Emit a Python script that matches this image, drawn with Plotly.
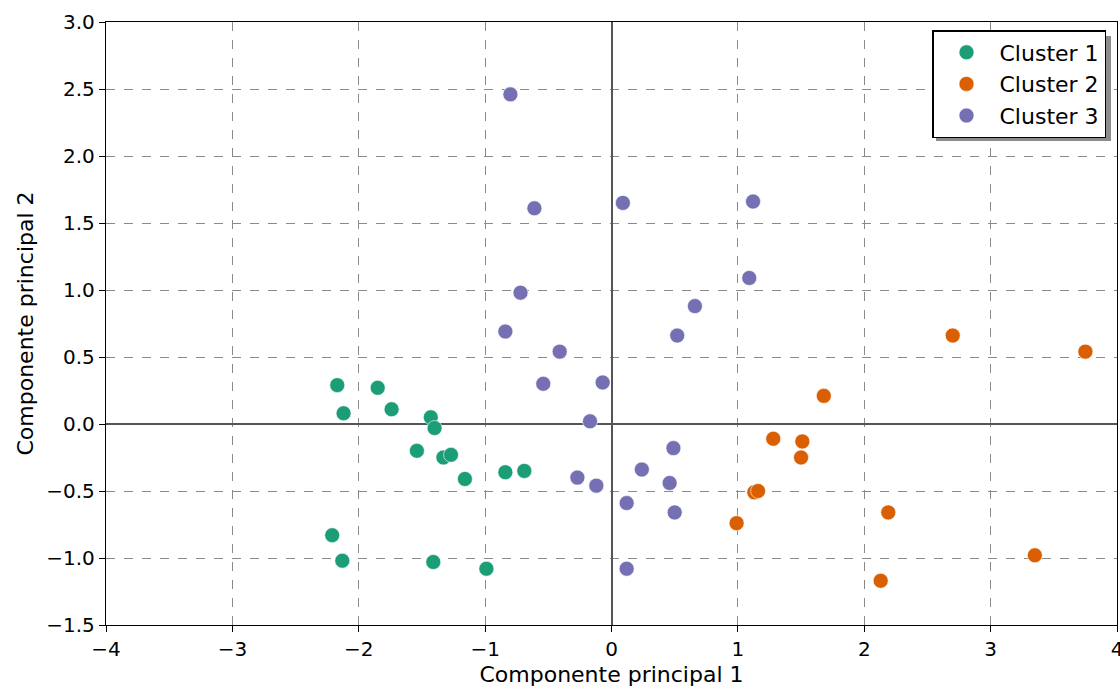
import plotly.graph_objects as go

# ---- data ----
cluster_names = ["Cluster 1", "Cluster 2", "Cluster 3"]
cluster_colors = ["#1b9e77", "#d95f02", "#7570b3"]

c1_x = [-2.17, -2.12, -1.85, -1.74, -1.43, -1.40, -1.54, -1.33, -1.27, -1.16, -0.84, -0.69, -2.21, -2.13, -1.41, -0.99]
c1_y = [0.29, 0.08, 0.27, 0.11, 0.05, -0.03, -0.20, -0.25, -0.23, -0.41, -0.36, -0.35, -0.83, -1.02, -1.03, -1.08]

c2_x = [2.70, 3.75, 1.68, 1.28, 1.51, 1.50, 1.13, 1.16, 0.99, 2.19, 2.13, 3.35]
c2_y = [0.66, 0.54, 0.21, -0.11, -0.13, -0.25, -0.51, -0.50, -0.74, -0.66, -1.17, -0.98]

c3_x = [-0.80, -0.61, 0.09, 1.12, 1.09, 0.66, 0.52, -0.72, -0.84, -0.41, -0.54, -0.07, -0.17, 0.49, 0.24, -0.27, -0.12, 0.46, 0.12, 0.50, 0.12]
c3_y = [2.46, 1.61, 1.65, 1.66, 1.09, 0.88, 0.66, 0.98, 0.69, 0.54, 0.30, 0.31, 0.02, -0.18, -0.34, -0.40, -0.46, -0.44, -0.59, -0.66, -1.08]

x_ticks = [-4, -3, -2, -1, 0, 1, 2, 3, 4]
x_tick_labels = ["\u22124", "\u22123", "\u22122", "\u22121", "0", "1", "2", "3", "4"]
y_ticks = [3.0, 2.5, 2.0, 1.5, 1.0, 0.5, 0.0, -0.5, -1.0, -1.5]
y_tick_labels = ["3.0", "2.5", "2.0", "1.5", "1.0", "0.5", "0.0", "\u22120.5", "\u22121.0", "\u22121.5"]

x_title = "Componente principal 1"
y_title = "Componente principal 2"

FONT = "DejaVu Sans, sans-serif"

fig = go.Figure()
for name, col, xs, ys in zip(cluster_names, cluster_colors,
                             [c1_x, c2_x, c3_x], [c1_y, c2_y, c3_y]):
    fig.add_trace(go.Scatter(
        x=xs, y=ys, mode="markers", name=name, legendgroup=name,
        marker=dict(color=col, size=15, line=dict(width=0.6, color="white")),
    ))

axis_common = dict(
    showline=True, linecolor="black", linewidth=1.3, mirror=True,
    ticks="outside", ticklen=6, tickwidth=1.3, tickcolor="black",
    showgrid=True, gridcolor="#8a8a8a", gridwidth=1, griddash="dash",
    zeroline=True, zerolinecolor="#555555", zerolinewidth=1.5,
    tickfont=dict(family=FONT, size=20, color="black"),
    title_font=dict(family=FONT, size=22, color="black"),
    ticklabeloverflow="allow",
)

fig.update_xaxes(range=[-4, 4], tickvals=x_ticks, ticktext=x_tick_labels,
                 title_text=x_title, title_standoff=6, **axis_common)
fig.update_yaxes(range=[-1.5, 3.0], tickvals=y_ticks, ticktext=y_tick_labels,
                 title_text=y_title, title_standoff=6, **axis_common)

# legend shadow (pixel box converted to paper coords)
L, R, T, B = 106, 1117, 22, 625
def px(x):
    return (x - L) / (R - L)
def py(y):
    return (B - y) / (B - T)
fig.add_shape(type="rect", xref="paper", yref="paper",
              x0=px(936), x1=px(1111), y0=py(141), y1=py(36),
              fillcolor="#8c8c8c", line=dict(width=0), layer="above")

fig.update_layout(
    width=1120, height=688,
    margin=dict(l=L, r=1120 - R, t=T, b=688 - B, autoexpand=False),
    paper_bgcolor="white", plot_bgcolor="white",
    font=dict(family=FONT, size=20, color="black"),
    legend=dict(
        x=px(1106), y=py(30), xanchor="right", yanchor="top",
        bgcolor="white", bordercolor="black", borderwidth=1.5,
        font=dict(family=FONT, size=22, color="black"),
        itemwidth=56, tracegroupgap=0,
    ),
)

fig.write_html("out.html", config={"displayModeBar": False},
               post_script="document.body.style.margin='0';document.body.style.overflow='hidden';")
